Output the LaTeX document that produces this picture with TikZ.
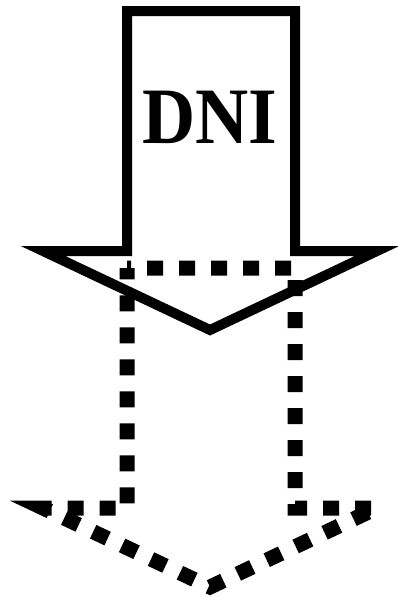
\documentclass[tikz,border=0pt]{standalone}
\usepackage{fontspec}
\setmainfont{Liberation Serif}
\usetikzlibrary{calc}

\tikzset{
  solidarrow/.style={black,line width=10pt,line join=miter},
  dotarrow/.style={black,line width=15pt,line join=miter,dash pattern=on 16pt off 16pt,dash phase=12pt},
  label/.style={font=\bfseries\fontsize{80}{80}\selectfont,inner sep=0pt,xscale=0.92}
}

\begin{document}
\begin{tikzpicture}[x=1pt,y=-1pt]
  \useasboundingbox (0,0) rectangle (398,597);
  % the same arrow outline twice, the second one lower
  \foreach \dy/\st in {0/solidarrow,257/dotarrow}
    \draw[\st,yshift=-\dy] (127,11)--(295,11)--(295,251)--(377,251)--(210,330)--(43,251)--(127,251)--cycle;
  \node[label] (dni) at (210,117) {DNI};
\end{tikzpicture}
\end{document}
